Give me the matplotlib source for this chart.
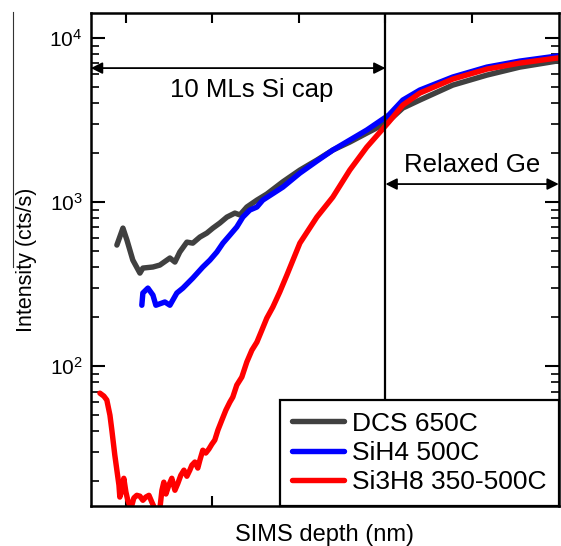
import matplotlib

matplotlib.use("Agg")
import matplotlib.pyplot as plt
from matplotlib.lines import Line2D
from matplotlib.ticker import LogLocator, NullFormatter, NullLocator, FixedLocator

plt.rcParams["font.family"] = ["Liberation Sans", "DejaVu Sans"]
plt.rcParams["mathtext.fontset"] = "custom"
plt.rcParams["mathtext.rm"] = "Liberation Sans"

# ── data (depth in nm, intensity in cts/s) ───────────────────────────────────
dcs_depth = [-0.50, -0.15, 0.08, 0.42, 0.83, 1.00, 1.58, 1.98, 2.56, 2.85,
             3.13, 3.54, 3.88, 4.29, 4.69, 5.04, 5.44, 5.85, 6.31, 6.60,
             7.00, 7.58, 8.15, 9.08, 10.06, 11.04, 11.96, 12.94, 13.92, 15.08,
             16.00, 16.98, 18.88, 20.85, 22.75, 24.88, 25.0]
dcs_int = [547, 694, 587, 443, 369, 396, 402, 413, 456, 431,
           496, 570, 562, 612, 647, 694, 745, 810, 857, 835,
           933, 1028, 1119, 1330, 1567, 1803, 2075, 2322, 2634, 3050,
           3744, 4188, 5166, 5946, 6653, 7238, 7260]

sih4_depth = [0.94, 1.00, 1.29, 1.58, 1.75, 2.27, 2.56, 2.96, 3.31, 3.88,
              4.46, 4.87, 5.27, 5.62, 6.02, 6.42, 6.77, 7.17, 7.58, 7.92,
              9.08, 10.06, 11.04, 11.96, 12.94, 13.92, 15.19, 16.00, 16.98, 18.88,
              20.85, 22.75, 24.88, 25.0]
sih4_int = [235, 279, 299, 271, 235, 246, 235, 279, 299, 344,
            402, 443, 496, 562, 629, 705, 810, 894, 933, 1028,
            1234, 1502, 1778, 2075, 2389, 2750, 3392, 4188, 4819, 5786,
            6653, 7238, 7769, 7790]

si3h8_depth = [-1.48, -1.25, -1.08, -0.90, -0.79, -0.62, -0.50, -0.38, -0.33, -0.21,
               -0.10, 0.02, 0.13, 0.31, 0.48, 0.65, 0.83, 1.00, 1.17, 1.35,
               1.52, 1.69, 1.87, 1.98, 2.10, 2.21, 2.33, 2.50, 2.67, 2.85,
               3.02, 3.19, 3.37, 3.54, 3.71, 3.83, 4.00, 4.17, 4.29, 4.46,
               4.63, 4.81, 4.98, 5.15, 5.33, 5.56, 5.79, 6.02, 6.19, 6.42,
               6.71, 7.00, 7.29, 7.58, 7.87, 8.15, 8.50, 8.90, 9.31, 10.06,
               11.04, 11.96, 12.94, 13.92, 15.19, 16.00, 16.98, 18.88, 20.85, 22.75,
               24.88, 25.0]
si3h8_int = [68.4, 65.6, 62.1, 50.2, 40.7, 28.7, 23.2, 18.8, 15.9, 17.5,
             20.7, 17.1, 15.2, 13.5, 15.7, 16.3, 16.1, 15.2, 15.9, 16.3,
             14.8, 13.5, 13.5, 13.5, 17.5, 19.6, 16.6, 18.8, 20.7, 17.5,
             19.3, 21.6, 23.2, 21.3, 23.2, 24.9, 26.0, 23.9, 26.7, 30.7,
             29.5, 31.2, 33.4, 35.4, 40.7, 46.9, 53.9, 60.3, 64.7, 76.6,
             85.7, 106, 125, 140, 166, 196, 229, 283, 359, 562,
             810, 1072, 1567, 2163, 3075, 3902, 4619, 5623, 6468, 7040,
             7551, 7570]

series_labels = ["DCS 650C", "SiH4 500C", "Si3H8 350-500C"]
series_colors = ["#404040", "#0000ff", "#ff0000"]

cap_edge = 15.0          # end of the Si cap
x_ticks = [0, 5, 10, 15, 20]
y_major = [1e2, 1e3, 1e4]
y_major_labels = [r"$\mathregular{10^2}$", r"$\mathregular{10^3}$", r"$\mathregular{10^4}$"]

# ── figure ────────────────────────────────────────────────────────────────
fig = plt.figure(figsize=(5.61, 5.46), dpi=100)
ax = fig.add_axes([0.162, 0.073, 0.834, 0.903])

for xs, ys, lab, col in zip([dcs_depth, sih4_depth, si3h8_depth],
                            [dcs_int, sih4_int, si3h8_int],
                            series_labels, series_colors):
    ax.plot(xs, ys, color=col, linewidth=3.9, label=lab,
            solid_capstyle="round", solid_joinstyle="round")

ax.set_yscale("log")
ax.set_xlim(-2, 25)
ax.set_ylim(14.0, 14200)

ax.axvline(cap_edge, color="black", linewidth=1.6, zorder=6)

# Region arrows
arrow_kw = dict(arrowstyle="<|-|>", color="black", lw=1.3,
                mutation_scale=17, shrinkA=0, shrinkB=0)
ax.annotate("", xy=(-2, 6561), xytext=(cap_edge, 6561), arrowprops=arrow_kw)
ax.annotate("", xy=(cap_edge, 1288), xytext=(25, 1288), arrowprops=arrow_kw)
ax.text(7.3, 4819, "10 MLs Si cap", fontsize=18.5, ha="center", va="center")
ax.text(20.0, 1683, "Relaxed Ge", fontsize=18.5, ha="center", va="center")

# Ticks
ax.xaxis.set_major_locator(FixedLocator(x_ticks))
ax.xaxis.set_minor_locator(NullLocator())
ax.tick_params(axis="x", which="major", direction="in", length=7, width=1.5,
               top=True, bottom=True, labelbottom=False)
ax.yaxis.set_major_locator(FixedLocator(y_major))
ax.yaxis.set_minor_locator(LogLocator(base=10, subs=range(2, 10)))
ax.yaxis.set_minor_formatter(NullFormatter())
ax.set_yticklabels(y_major_labels)
ax.tick_params(axis="y", which="major", direction="in", length=10, width=1.5,
               left=True, right=True, labelsize=15, pad=6)
ax.tick_params(axis="y", which="minor", direction="in", length=6, width=1.2,
               left=True, right=True)

for sp in ax.spines.values():
    sp.set_linewidth(1.8)

ax.set_xlabel("SIMS depth (nm)", fontsize=17)
ax.xaxis.set_label_coords(0.5, -0.037)
ax.set_ylabel("Intensity (cts/s)", fontsize=15.5)
ax.yaxis.set_label_coords(-0.115, 0.5)

leg = ax.legend(loc="lower right", fontsize=19, frameon=True, fancybox=False,
                edgecolor="black", framealpha=1, borderaxespad=0,
                handlelength=2.0, handletextpad=0.3, labelspacing=0.2,
                borderpad=0.45)
leg.get_frame().set_linewidth(1.6)
leg.set_zorder(10)

# thin stray rule at the left edge of the original figure
fig.add_artist(Line2D([13 / 561, 13 / 561], [1 - 12 / 546, 1 - 267 / 546],
                      color="#333333", linewidth=0.8))

fig.savefig("out.png", dpi=100)
